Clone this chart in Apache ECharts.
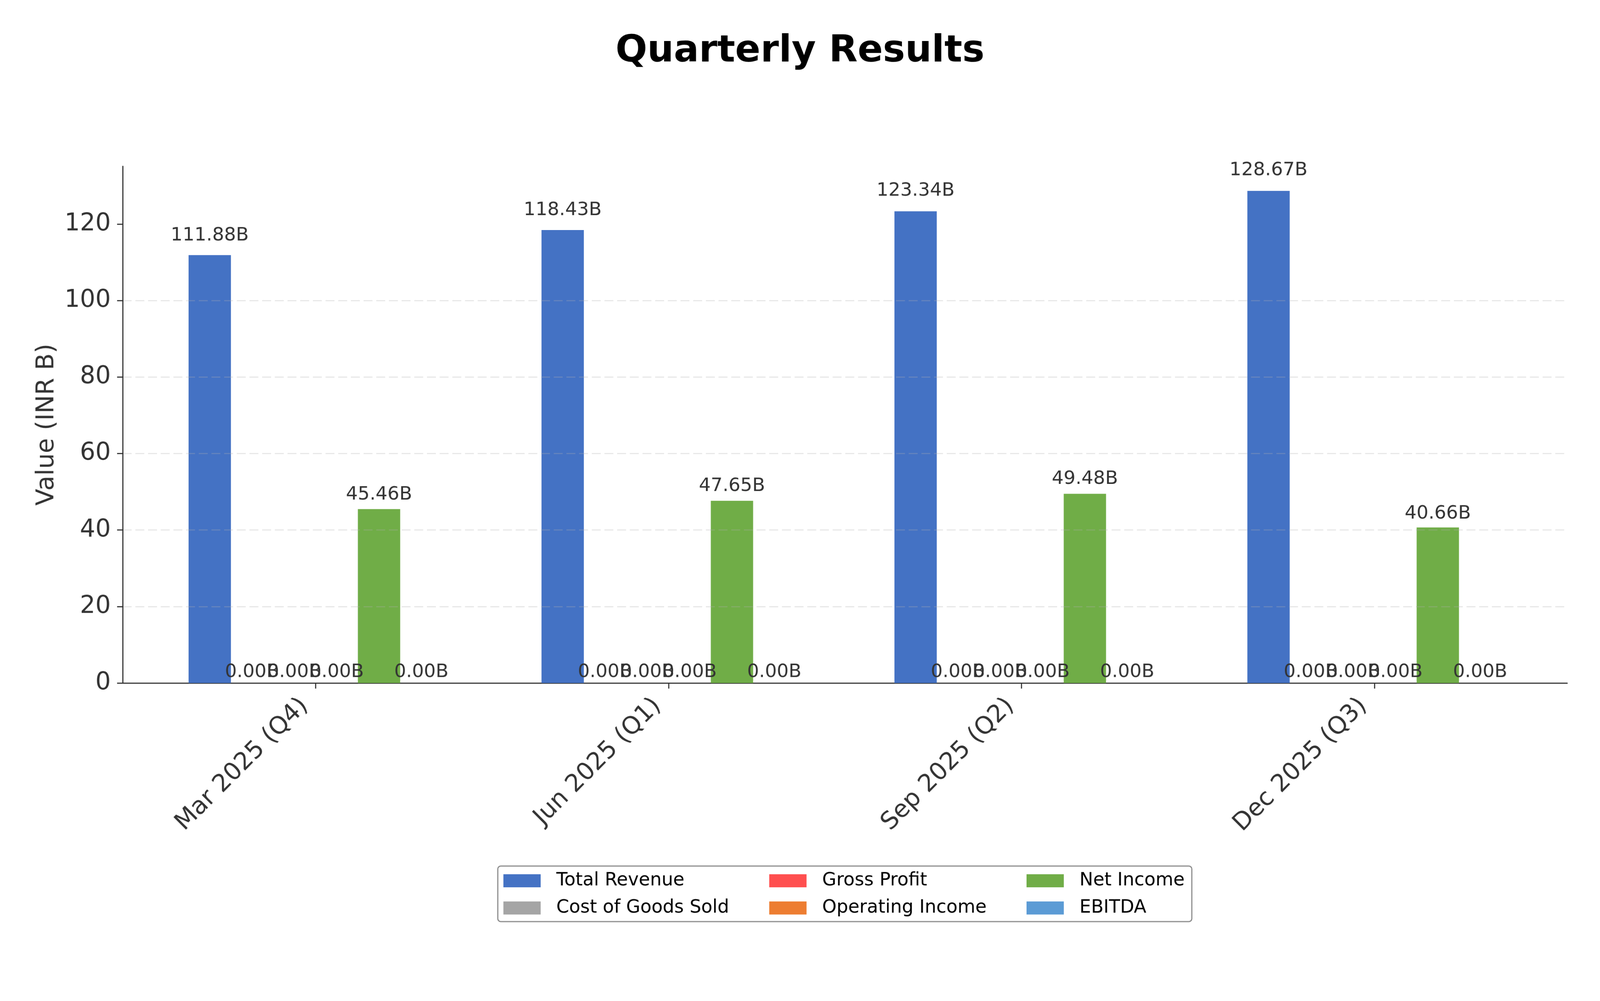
<!DOCTYPE html>
<html>
<head>
<meta charset="utf-8">
<title>Quarterly Results</title>
<script src="https://cdn.jsdelivr.net/npm/echarts@6/dist/echarts.min.js"></script>
<style>
	html, body { margin: 0; padding: 0; background: #fff; overflow: hidden; }
	#frame { position: relative; overflow: hidden; }
	#chart { width: 4291px; height: 2563px; transform-origin: 0 0; }
</style>
</head>
<body>
<div id="frame"><div id="chart"></div></div>
<script>
	// values in INR billions
	const categories = ['Mar 2025 (Q4)', 'Jun 2025 (Q1)', 'Sep 2025 (Q2)', 'Dec 2025 (Q3)'];
	const totalRevenue = [111.88, 118.43, 123.34, 128.67];
	const costOfGoodsSold = [0, 0, 0, 0];
	const grossProfit = [0, 0, 0, 0];
	const operatingIncome = [0, 0, 0, 0];
	const netIncome = [45.46, 47.65, 49.48, 40.66];
	const ebitda = [0, 0, 0, 0];
	const yTicks = [0, 20, 40, 60, 80, 100, 120];
	const yMax = 135.1;

	const seriesNames = ['Total Revenue', 'Cost of Goods Sold', 'Gross Profit', 'Operating Income', 'Net Income', 'EBITDA'];
	const seriesValues = [totalRevenue, costOfGoodsSold, grossProfit, operatingIncome, netIncome, ebitda];
	const colorList = ['#4472C4', '#A5A5A5', '#FF4F4F', '#ED7D31', '#70AD47', '#5B9BD5'];

	const font = 'DejaVu Sans';
	const W = 4291, H = 2563;

	// the page is drawn on a fixed 4291x2563 board, fitted to the viewport
	const frame = document.getElementById('frame');
	const box = document.getElementById('chart');
	const fit = Math.min(window.innerWidth / W, window.innerHeight / H);
	frame.style.width = (W * fit) + 'px';
	frame.style.height = (H * fit) + 'px';
	box.style.transform = 'scale(' + fit + ')';

	const chart = echarts.init(box, null, { renderer: 'canvas' });

	const plotTop = 446, plotBottom = 731;
	const pxPerUnit = (H - plotTop - plotBottom) / yMax;

	// legend: 3 columns of 2 entries, the first one carries the frame
	function legendColumn(names, left, top, extra) {
		return Object.assign({
			data: names,
			orient: 'vertical',
			left: left,
			top: top,
			padding: 0,
			itemGap: 24,
			itemWidth: 100,
			itemHeight: 35,
			icon: 'rect',
			z: 5,
			textStyle: { fontFamily: font, fontSize: 49, color: '#000', padding: [0, 0, 0, 37] }
		}, extra || {});
	}

	const option = {
		backgroundColor: '#fff',
		animation: false,
		color: colorList,
		title: {
			text: 'Quarterly Results',
			left: 'center',
			top: 84,
			textStyle: { fontFamily: font, fontSize: 100, fontWeight: 'bold', color: '#000' }
		},
		legend: [
			legendColumn(seriesNames.slice(0, 2), 1335, 2323, {
				z: 3,
				padding: [15, 1241, 12, 15],
				borderColor: '#888',
				borderWidth: 3,
				borderRadius: 8,
				backgroundColor: '#fff'
			}),
			legendColumn(seriesNames.slice(2, 4), 2063, 2338),
			legendColumn(seriesNames.slice(4, 6), 2753, 2338)
		],
		grid: [
			// bars: one band per quarter
			{ left: 373, right: 132, top: plotTop, bottom: plotBottom },
			// frame: spines, ticks and grid lines
			{ left: 329, right: 88, top: plotTop, bottom: plotBottom }
		],
		xAxis: [{
			type: 'category',
			gridIndex: 0,
			data: categories,
			axisLine: { show: false },
			axisTick: { show: true, alignWithLabel: true, length: 15, lineStyle: { color: '#333', width: 3 } },
			axisLabel: { rotate: 45, margin: 22, padding: [0, 42, 0, 0], fontFamily: font, fontSize: 65, color: '#333' },
			splitLine: { show: false }
		}, {
			type: 'value',
			gridIndex: 1,
			min: 0,
			max: 1,
			axisLine: { show: true, lineStyle: { color: '#333', width: 3 } },
			axisTick: { show: false },
			axisLabel: { show: false },
			splitLine: { show: false }
		}],
		yAxis: [{
			type: 'value',
			gridIndex: 0,
			min: 0,
			max: yMax,
			show: false,
			splitLine: { show: false }
		}, {
			type: 'value',
			gridIndex: 1,
			min: 0,
			max: yMax,
			interval: 20,
			z: 3,
			name: 'Value (INR B)',
			nameLocation: 'middle',
			nameGap: 170,
			nameTextStyle: { fontFamily: font, fontSize: 66, color: '#333' },
			axisLine: { show: true, lineStyle: { color: '#333', width: 3 } },
			axisTick: { show: true, length: 15, customValues: yTicks, lineStyle: { color: '#333', width: 3 } },
			axisLabel: { margin: 32, customValues: yTicks, fontFamily: font, fontSize: 65, color: '#333' },
			splitLine: {
				show: true,
				showMinLine: false,
				showMaxLine: false,
				lineStyle: { color: 'rgba(176,176,176,0.3)', width: 3, type: [24, 10] }
			}
		}],
		series: seriesNames.map(function(name, i) {
			return {
				name: name,
				type: 'bar',
				xAxisIndex: 0,
				yAxisIndex: 0,
				barWidth: 113.5,
				barGap: '0%',
				// value labels sit 2% of the bar height above the bar
				data: seriesValues[i].map(function(v) {
					return { value: v, label: { distance: 4 + v * 0.02 * pxPerUnit } };
				}),
				label: {
					show: true,
					position: 'top',
					fontFamily: font,
					fontSize: 50,
					color: '#333',
					formatter: function(p) { return p.value.toFixed(2) + 'B'; }
				}
			};
		})
	};

	chart.setOption(option);
</script>
</body>
</html>
